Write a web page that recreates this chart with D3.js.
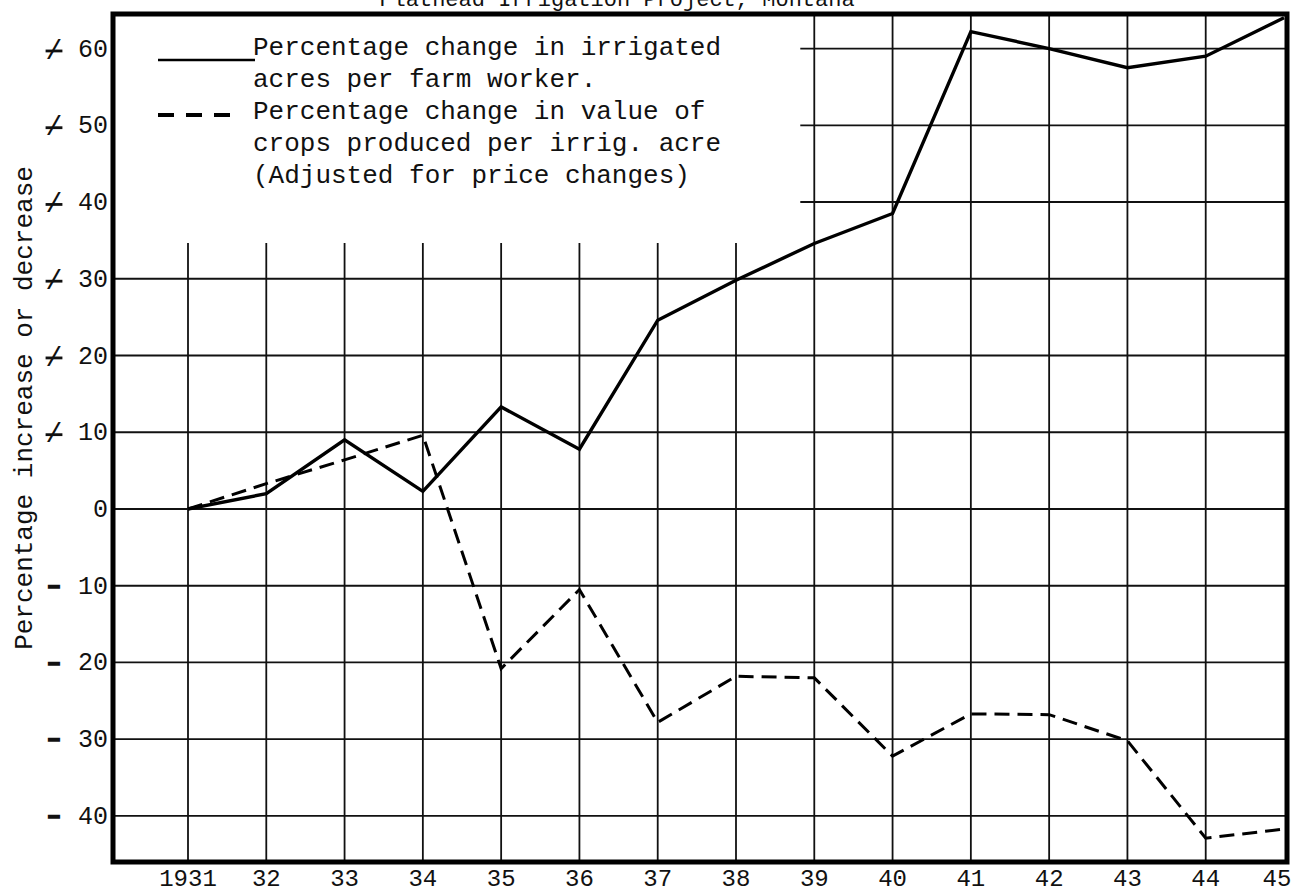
<!DOCTYPE html>
<html>
<head>
<meta charset="utf-8">
<script src="https://cdn.jsdelivr.net/npm/d3@7/dist/d3.min.js"></script>
<style>
  body { margin: 0; background: #fff; }
  text { font-family: "Liberation Mono", "DejaVu Sans Mono", monospace; fill: #111; }
  .sign { stroke: #111; stroke-width: 1.6px; }
</style>
</head>
<body>
<script>
// values
var years = [1931, 1932, 1933, 1934, 1935, 1936, 1937, 1938, 1939, 1940, 1941, 1942, 1943, 1944, 1945];
var yearLabels = ["1931", "32", "33", "34", "35", "36", "37", "38", "39", "40", "41", "42", "43", "44", "45"];
var acresPerWorker = [0, 2, 9, 2.3, 13.3, 7.8, 24.6, 29.8, 34.6, 38.5, 62.2, 60, 57.5, 59, 64];
var cropValuePerAcre = [0, 3.3, 6.4, 9.6, -20.8, -10.5, -27.8, -21.8, -22, -32.2, -26.7, -26.8, -30.2, -42.9, -41.7];
var yTicks = [60, 50, 40, 30, 20, 10, 0, -10, -20, -30, -40];
var legendLines = [
  "Percentage change in irrigated",
  "acres per farm worker.",
  "Percentage change in value of",
  "crops produced per irrig. acre",
  "(Adjusted for price changes)"
];
var title = "Flathead Irrigation Project, Montana";
var yTitle = "Percentage increase or decrease";

var margin = {top: 14, right: 8, bottom: 33, left: 113};
var width = 1295 - margin.left - margin.right;
var height = 895 - margin.top - margin.bottom;

var root = d3.select("body")
  .append("svg")
    .attr("width", 1295)
    .attr("height", 895);

var svg = root.append("g")
    .attr("transform", "translate(" + margin.left + "," + margin.top + ")");

var x = d3.scaleLinear().domain([1931, 1945]).range([75, 1171]);
var y = d3.scaleLinear().domain([-46, 64.5]).range([height, 0]);

// empty box where the legend sits (no grid drawn there)
var legendRight = x(1939) - 14;
var legendBottom = 229;

// title, cut off by the top of the page like the scan
root.append("text")
    .attr("x", 617)
    .attr("y", 6)
    .attr("text-anchor", "middle")
    .style("font-size", "22px")
    .text(title);

// grid
var grid = svg.append("g").attr("class", "grid")
    .attr("stroke", "#111")
    .attr("stroke-width", 1.8);

grid.selectAll("line.h")
    .data(yTicks)
  .enter().append("line")
    .attr("class", "h")
    .attr("x1", function(d) { return d >= 40 ? legendRight : 0; })
    .attr("x2", width)
    .attr("y1", function(d) { return y(d); })
    .attr("y2", function(d) { return y(d); });

grid.selectAll("line.v")
    .data(years.slice(0, -1))
  .enter().append("line")
    .attr("class", "v")
    .attr("x1", function(d) { return x(d); })
    .attr("x2", function(d) { return x(d); })
    .attr("y1", function(d) { return d < 1939 ? legendBottom : 0; })
    .attr("y2", height);

// frame
svg.append("rect")
    .attr("x", 0)
    .attr("y", 0)
    .attr("width", width)
    .attr("height", height)
    .attr("fill", "none")
    .attr("stroke", "#000")
    .attr("stroke-width", 5);

// y tick labels; the typewriter plus is a slash struck through
var yLab = svg.append("g").attr("class", "ylabels");
yTicks.forEach(function(d) {
  var g = yLab.append("g").attr("transform", "translate(0," + y(d) + ")");
  g.append("text")
      .attr("x", -5)
      .attr("dy", "0.32em")
      .attr("text-anchor", "end")
      .style("font-size", "25px")
      .text(Math.abs(d));
  if (d > 0) {
    g.append("text").attr("x", -59).attr("dy", "0.36em").attr("text-anchor", "middle")
        .style("font-size", "28px")
        .style("text-decoration", "line-through")
        .text("/");
  } else if (d < 0) {
    g.append("text").attr("class", "sign").attr("x", -59).attr("dy", "0.3em").attr("text-anchor", "middle")
        .style("font-size", "24px").style("font-weight", "bold").text("\u2013");
  }
});

// x tick labels
svg.append("g").attr("class", "xlabels")
  .selectAll("text")
    .data(years)
  .enter().append("text")
    .attr("x", function(d) { return Math.min(x(d), width - 10); })
    .attr("y", height + 24)
    .attr("text-anchor", "middle")
    .style("font-size", "24px")
    .text(function(d, i) { return yearLabels[i]; });

// y title
root.append("text")
    .attr("transform", "translate(32,408) rotate(-90)")
    .attr("text-anchor", "middle")
    .style("font-size", "26px")
    .text(yTitle);

// series
var line = d3.line()
    .x(function(d, i) { return x(years[i]); })
    .y(function(d) { return y(d); });

svg.append("path")
    .datum(cropValuePerAcre)
    .attr("fill", "none")
    .attr("stroke", "#000")
    .attr("stroke-width", 3)
    .attr("stroke-dasharray", "15,8")
    .attr("d", line);

svg.append("path")
    .datum(acresPerWorker)
    .attr("fill", "none")
    .attr("stroke", "#000")
    .attr("stroke-width", 3.4)
    .attr("stroke-linejoin", "miter")
    .attr("d", line);

// legend
var legend = root.append("g").attr("class", "legend");
legend.append("line")
    .attr("x1", 158).attr("x2", 255)
    .attr("y1", 60).attr("y2", 60)
    .attr("stroke", "#000")
    .attr("stroke-width", 2.5);
legend.append("line")
    .attr("x1", 158).attr("x2", 240)
    .attr("y1", 115).attr("y2", 115)
    .attr("stroke", "#000")
    .attr("stroke-width", 4)
    .attr("stroke-dasharray", "16,12");
legend.selectAll("text")
    .data(legendLines)
  .enter().append("text")
    .attr("x", 253)
    .attr("y", function(d, i) { return 55 + i * 32; })
    .style("font-size", "26px")
    .text(function(d) { return d; });
</script>
</body>
</html>
